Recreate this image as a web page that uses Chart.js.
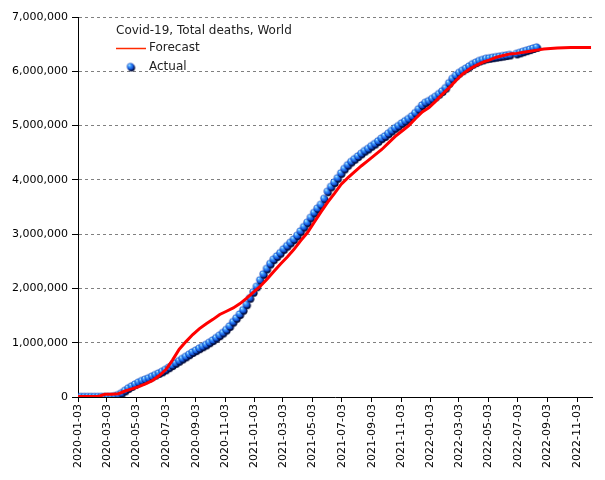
<!DOCTYPE html>
<html>
<head>
<meta charset="utf-8">
<title>Covid-19, Total deaths, World</title>
<script src="https://cdn.jsdelivr.net/npm/chart.js@4.4.0/dist/chart.umd.min.js"></script>
<style>
  body { margin: 0; background: #fff; }
</style>
</head>
<body>
<canvas id="deathsChart" width="605" height="480"></canvas>
<script>
        // Chart data (deaths in thousands)
        const chartTitle = 'Covid-19, Total deaths, World';
        const startDate = '2020-01-03';
        const xMaxDay = 1066;
        const tickLabels = ['2020-01-03', '2020-03-03', '2020-05-03', '2020-07-03', '2020-09-03', '2020-11-03',
            '2021-01-03', '2021-03-03', '2021-05-03', '2021-07-03', '2021-09-03', '2021-11-03',
            '2022-01-03', '2022-03-03', '2022-05-03', '2022-07-03', '2022-09-03', '2022-11-03'];
        const yTicks = [0, 1000000, 2000000, 3000000, 4000000, 5000000, 6000000, 7000000];

        // weekly actual values starting at startDate
        const actualStepDays = 7;
        const actualDeaths = [
            0, 0, 0, 0, 0, 0, 0, 2, 3, 3,
            5, 15, 35, 70, 115, 160, 195, 230, 265, 295,
            320, 345, 375, 405, 435, 465, 500, 540, 580, 620,
            660, 700, 740, 780, 820, 855, 890, 925, 960, 1000,
            1040, 1085, 1130, 1180, 1235, 1300, 1380, 1450, 1520, 1600,
            1700, 1820, 1930, 2030, 2150, 2260, 2360, 2450, 2530, 2590,
            2650, 2720, 2780, 2840, 2900, 2970, 3050, 3130, 3210, 3300,
            3390, 3470, 3540, 3650, 3780, 3870, 3950, 4030, 4120, 4200,
            4270, 4330, 4380, 4430, 4480, 4530, 4570, 4620, 4660, 4710,
            4760, 4800, 4850, 4900, 4950, 4990, 5040, 5080, 5120, 5170,
            5230, 5300, 5370, 5420, 5450, 5490, 5530, 5580, 5630, 5690,
            5780, 5860, 5920, 5970, 6010, 6050, 6090, 6130, 6160, 6190,
            6210, 6230, 6240, 6250, 6260, 6270, 6280, 6290, 6300, null,
            6320, 6340, 6360, 6380, 6400, 6420, 6440
        ];

        // forecast values every two weeks starting at startDate
        const forecastStepDays = 14;
        const forecastDeaths = [
            10, 10, 10, 10, 50, 50, 60, 110, 150, 190,
            240, 300, 390, 500, 680, 880, 1020, 1150, 1260, 1350,
            1430, 1520, 1580, 1640, 1720, 1820, 1930, 2040, 2170, 2310,
            2450, 2580, 2720, 2880, 3030, 3220, 3410, 3590, 3750, 3920,
            4040, 4150, 4260, 4360, 4460, 4560, 4680, 4800, 4900, 5000,
            5130, 5250, 5330, 5450, 5580, 5700, 5830, 5950, 6040, 6110,
            6170, 6210, 6260, 6290, 6320, 6330, 6350, 6370, 6390, 6410,
            6420, 6430, 6435, 6440, 6440, 6440, 6440
        ];

        function dayOf(dateStr) {
            return (Date.parse(dateStr) - Date.parse(startDate)) / 86400000;
        }

        const labelByDay = {};
        tickLabels.forEach(function(l) { labelByDay[dayOf(l)] = l; });

        const actualPoints = [];
        actualDeaths.forEach(function(v, i) {
            if (v !== null) actualPoints.push({ x: i * actualStepDays, y: v * 1000 });
        });
        const forecastPoints = forecastDeaths.map(function(v, i) {
            return { x: i * forecastStepDays, y: v * 1000 };
        });

        // shaded blue ball with a dark shadow, used for the actual points
        function makeSphere(r) {
            const size = Math.ceil(r * 2) + 3;
            const c = document.createElement('canvas');
            c.width = c.height = size;
            const g = c.getContext('2d');
            const cx = size / 2 - 0.5;
            g.fillStyle = '#000a38';
            g.beginPath();
            g.arc(cx + 1, cx + 1.3, r, 0, Math.PI * 2);
            g.fill();
            const grad = g.createRadialGradient(cx - r * 0.4, cx - r * 0.45, 0.2, cx, cx, r);
            grad.addColorStop(0, '#c8f4ff');
            grad.addColorStop(0.3, '#48a8ff');
            grad.addColorStop(0.7, '#1a62e8');
            grad.addColorStop(1, '#0838a8');
            g.fillStyle = grad;
            g.beginPath();
            g.arc(cx, cx, r, 0, Math.PI * 2);
            g.fill();
            return c;
        }
        const sphere = makeSphere(3.6);

        // legend box drawn inside the plot, top left
        const legendBox = {
            id: 'legendBox',
            afterDraw(chart) {
                const c = chart.ctx;
                const fc = chart.data.datasets[0];
                const ac = chart.data.datasets[1];
                c.save();
                c.font = '12px "DejaVu Sans"';
                c.textBaseline = 'middle';
                c.fillStyle = '#222';
                c.fillText(chartTitle, 116, 31);
                c.strokeStyle = '#ff2a00';
                c.lineWidth = 1.5;
                c.beginPath();
                c.moveTo(116, 48.5);
                c.lineTo(146, 48.5);
                c.stroke();
                c.fillText(fc.label, 149, 48);
                c.drawImage(sphere, 131 - sphere.width / 2, 67 - sphere.height / 2);
                c.fillText(ac.label, 149, 67);
                c.restore();
            }
        };

        const ctx = document.getElementById('deathsChart').getContext('2d');
        const deathsChart = new Chart(ctx, {
            type: 'scatter',
            data: {
                datasets: [{
                    label: 'Forecast',
                    data: forecastPoints,
                    showLine: true,
                    borderColor: '#ff0000',
                    borderWidth: 3,
                    pointRadius: 0,
                    tension: 0
                }, {
                    label: 'Actual',
                    data: actualPoints,
                    pointStyle: sphere,
                    pointRadius: 4
                }]
            },
            options: {
                responsive: false,
                animation: false,
                devicePixelRatio: 1,
                layout: { padding: { top: 17, right: 13, left: 0, bottom: 0 } },
                plugins: {
                    legend: { display: false },
                    tooltip: { enabled: false }
                },
                scales: {
                    x: {
                        type: 'linear',
                        min: 0,
                        max: xMaxDay,
                        afterBuildTicks: function(scale) {
                            scale.ticks = tickLabels.map(function(l) { return { value: dayOf(l) }; });
                        },
                        afterFit: function(scale) { scale.height = 83; },
                        ticks: {
                            autoSkip: false,
                            minRotation: 90,
                            maxRotation: 90,
                            padding: 2,
                            color: '#000',
                            font: { family: 'DejaVu Sans', size: 11 },
                            callback: function(value) { return labelByDay[value] || ''; }
                        },
                        grid: { drawOnChartArea: false, tickLength: 5, tickColor: '#000' },
                        border: { color: '#000', width: 1 }
                    },
                    y: {
                        min: 0,
                        max: 7000000,
                        afterBuildTicks: function(scale) {
                            scale.ticks = yTicks.map(function(v) { return { value: v }; });
                        },
                        afterFit: function(scale) { scale.width = 78; },
                        ticks: {
                            padding: 4,
                            color: '#000',
                            font: { family: 'DejaVu Sans', size: 11 },
                            callback: function(value) { return value.toLocaleString('en-US'); }
                        },
                        grid: {
                            color: function(c) { return c.tick && c.tick.value === 0 ? 'rgba(0,0,0,0)' : '#808080'; },
                            tickColor: '#000',
                            tickLength: 6
                        },
                        border: { color: '#000', width: 1, dash: [3, 3] }
                    }
                }
            },
            plugins: [legendBox]
        });
</script>
</body>
</html>
